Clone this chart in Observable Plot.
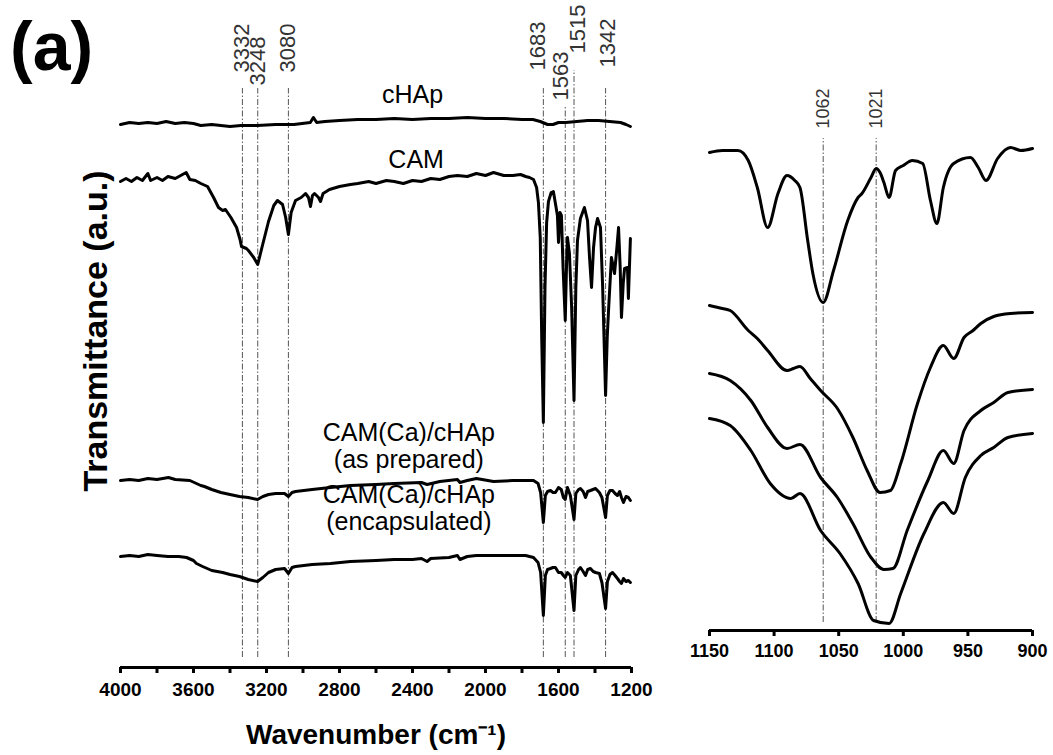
<!DOCTYPE html>
<html>
<head>
<meta charset="utf-8">
<script src="https://cdn.jsdelivr.net/npm/d3@7"></script>
<script src="https://cdn.jsdelivr.net/npm/@observablehq/plot@0.6"></script>
<style>
  html, body { margin: 0; padding: 0; background: #fff; }
  #fig { position: relative; width: 1053px; height: 755px; background: #fff; overflow: hidden;
         font-family: "Liberation Sans", Arial, sans-serif; }
  #left { position: absolute; left: 0; top: 0; }
  #right { position: absolute; left: 660px; top: 0; }
  #title { position: absolute; left: 10px; top: 12px; font-size: 68px; font-weight: bold; line-height: 1; }
  #ylab { position: absolute; left: 95px; top: 331px; font-size: 34px; font-weight: bold; line-height: 1;
          white-space: nowrap; transform: translate(-50%, -50%) rotate(-90deg); }
  svg [aria-label="x-axis tick label"] text { font-weight: bold; }
</style>
</head>
<body>
<div id="fig">
  <div id="left"></div>
  <div id="right"></div>
  <div id="title">(a)</div>
  <div id="ylab">Transmittance (a.u.)</div>
</div>
<script>
// ---------- DATA (wavenumber in cm-1, transmittance in stacked a.u.) ----------
// Left panel (4000–1200 cm-1)
const cHAp = [[4000,543],[3950,545],[3900,544],[3850,545],[3800,544],[3750,546],[3700,544],[3650,545],[3600,544],[3560,542],[3500,543],[3450,542],[3400,541],[3340,542],[3250,542],[3150,543],[3050,543],[2960,545],[2943,550],[2925,545],[2880,546],[2800,547],[2700,548],[2600,548],[2500,549],[2400,548],[2300,549],[2200,549],[2100,550],[2000,549],[1900,549],[1800,548],[1740,548],[1700,546],[1660,543],[1630,543],[1600,545],[1560,545],[1500,546],[1440,547],[1380,547],[1320,546],[1260,545],[1230,543],[1206,541]];

const CAM = [[4000,486],[3970,489],[3940,486],[3910,490],[3880,487],[3850,494],[3835,487],[3800,490],[3770,487],[3740,491],[3700,489],[3660,493],[3640,495],[3620,488],[3590,487],[3560,484],[3523,481],[3490,470],[3463,460],[3440,457],[3425,458],[3395,450],[3364,440],[3345,428],[3337,421],[3310,419],[3299,417],[3270,410],[3248,403],[3225,420],[3189,446],[3160,462],[3140,467],[3112,463],[3095,450],[3080,433],[3065,455],[3041,467],[3010,470],[2986,474],[2970,470],[2959,461],[2948,472],[2937,474],[2915,470],[2904,466],[2890,474],[2855,478],[2800,481],[2740,483],[2700,484],[2640,486],[2600,484],[2543,487],[2500,486],[2450,484],[2400,487],[2351,486],[2300,489],[2250,488],[2200,491],[2154,492],[2100,491],[2050,494],[2000,492],[1956,495],[1900,492],[1850,492],[1808,493],[1780,491],[1759,490],[1737,488],[1720,480],[1710,465],[1700,430],[1692,330],[1683,245],[1674,380],[1665,445],[1655,466],[1640,475],[1628,476],[1615,462],[1606,452],[1600,425],[1592,455],[1584,452],[1575,400],[1563,347],[1555,410],[1551,430],[1540,414],[1528,360],[1515,267],[1505,380],[1496,427],[1480,449],[1458,460],[1441,447],[1430,410],[1419,380],[1408,420],[1397,440],[1386,449],[1370,440],[1358,380],[1342,272],[1333,330],[1325,360],[1310,410],[1293,394],[1280,420],[1271,440],[1262,400],[1255,350],[1245,385],[1238,399],[1222,400],[1217,369],[1206,429]];

const asPrepared = [[4000,187],[3950,188],[3900,187],[3850,189],[3800,188],[3737,190],[3700,188],[3620,187],[3584,184],[3560,182],[3540,181],[3500,178],[3450,175],[3400,173],[3348,171],[3300,170],[3249,168],[3220,171],[3189,173],[3150,174],[3101,174],[3080,171],[3060,175],[3041,176],[2950,178],[2850,180],[2740,182],[2600,183],[2500,184],[2351,185],[2320,183],[2250,186],[2154,188],[2140,185],[2100,187],[2050,189],[1956,186],[1850,187],[1780,187],[1737,187],[1712,184],[1698,175],[1683,145],[1672,172],[1660,176],[1644,177],[1630,175],[1617,175],[1600,180],[1585,178],[1573,170],[1563,168],[1551,180],[1535,172],[1515,148],[1505,174],[1490,178],[1480,179],[1465,176],[1452,170],[1440,176],[1425,177],[1397,179],[1376,175],[1362,170],[1342,150],[1332,172],[1318,177],[1304,177],[1290,174],[1277,172],[1265,176],[1255,170],[1244,165],[1230,171],[1217,170],[1206,167]];

const encapsulated = [[4000,111],[3950,112],[3900,111],[3850,113],[3800,112],[3740,111],[3680,111],[3638,110],[3600,107],[3584,104],[3550,101],[3500,97],[3440,95],[3400,93],[3348,91],[3300,88],[3249,86],[3220,90],[3189,95],[3150,98],[3101,99],[3080,94],[3060,100],[3041,101],[2950,103],[2850,104],[2740,106],[2600,107],[2500,108],[2400,108],[2351,109],[2320,106],[2300,109],[2200,110],[2154,112],[2140,108],[2100,111],[2050,112],[1956,112],[1850,112],[1780,112],[1737,110],[1712,105],[1698,95],[1683,52],[1672,92],[1660,98],[1644,99],[1630,100],[1617,100],[1600,95],[1585,95],[1573,92],[1563,90],[1551,95],[1535,92],[1515,57],[1505,92],[1490,98],[1480,100],[1465,96],[1452,92],[1440,98],[1425,99],[1410,96],[1397,95],[1376,94],[1362,85],[1342,59],[1332,86],[1318,93],[1304,95],[1290,92],[1277,89],[1265,86],[1255,84],[1244,89],[1230,86],[1217,87],[1206,85]];

// Right panel (1150–900 cm-1)
const CAM_r = [[1150,478],[1140,480],[1128,480],[1120,470],[1113,443],[1105,403],[1097,437],[1090,455],[1084,450],[1080,443],[1074,390],[1070,357],[1062,328],[1054,360],[1043,410],[1035,433],[1032,437],[1025,453],[1021,462],[1018,458],[1015,448],[1011,433],[1006,460],[1000,465],[993,470],[985,467],[979,430],[974,407],[969,443],[961,467],[948,473],[942,463],[936,450],[927,472],[917,483],[909,480],[900,482]];
const asPrepared_r = [[1150,325],[1140,322],[1134,320],[1120,300],[1113,292],[1105,280],[1090,260],[1085,262],[1080,264],[1072,252],[1064,240],[1051,222],[1039,193],[1028,160],[1018,138],[1010,140],[1002,167],[989,227],[979,263],[969,285],[961,272],[953,293],[946,300],[940,307],[930,314],[917,317],[900,318]];
const encapsulated_r = [[1150,257],[1134,250],[1118,230],[1105,203],[1090,182],[1080,186],[1064,153],[1051,133],[1039,107],[1025,73],[1015,61],[1008,62],[997,100],[981,150],[969,180],[961,167],[953,200],[940,220],[930,228],[919,238],[900,241]];
const fourth_r = [[1150,212],[1134,205],[1118,180],[1103,147],[1087,132],[1080,137],[1064,100],[1049,77],[1035,47],[1023,10],[1011,7],[1002,37],[984,97],[969,128],[961,117],[952,153],[940,175],[930,183],[919,193],[900,197]];

// Peak markers
const peaksLeft = [3332, 3248, 3080, 1683, 1563, 1515, 1342];
const peaksLeftTop = [579, 579, 579, 579, 560, 597, 579];
const peaksLeftLabelW = [3335, 3248, 3082, 1715, 1586, 1491, 1329];
const peaksLeftLabelV = [595, 582, 595, 597, 567, 614, 600];
const peaksRight = [1062, 1021];

// Curve labels (multi-line labels are one text each)
const curveLabelText = ["cHAp", "CAM", "CAM(Ca)/cHAp\n(as prepared)", "CAM(Ca)/cHAp\n(encapsulated)"];
const curveLabelW = [2400, 2380, 2420, 2420];
const curveLabelV = [573, 508, 222, 160];

// Axis ticks
const leftTicks = d3.range(1200, 4001, 200);
const rightTicks = [1150, 1100, 1050, 1000, 950, 900];

// ---------- BUILD ----------
const rows = (name, arr) => arr.map(([w, v]) => ({series: name, w, v}));
const leftData = [...rows("cHAp", cHAp), ...rows("CAM", CAM), ...rows("prep", asPrepared), ...rows("enc", encapsulated)];
const rightData = [...rows("CAM", CAM_r), ...rows("prep", asPrepared_r), ...rows("enc", encapsulated_r), ...rows("4", fourth_r)];
const leftPeaks = peaksLeft.map((w, i) => ({w, top: peaksLeftTop[i], lw: peaksLeftLabelW[i], lv: peaksLeftLabelV[i], label: String(w)}));
const rightPeaks = peaksRight.map(w => ({w, label: String(w)}));
const curveLabels = curveLabelText.map((t, i) => ({t, w: curveLabelW[i], v: curveLabelV[i]}));

const font = "Liberation Sans, Arial, sans-serif";
const dash = "6,2,1.5,2";

const left = Plot.plot({
  width: 660, height: 755,
  marginLeft: 120, marginRight: 29, marginTop: 0, marginBottom: 88,
  style: {fontFamily: font, background: "transparent", color: "black", overflow: "visible"},
  x: {domain: [4000, 1200]},
  y: {domain: [0, 667], axis: null},
  marks: [
    Plot.ruleX(leftPeaks, {x: "w", y1: 10, y2: "top", stroke: "#555", strokeWidth: 1, strokeDasharray: dash}),
    Plot.text(leftPeaks, {x: "lw", y: "lv", text: "label", rotate: -90, textAnchor: "start", lineAnchor: "middle", fontSize: 22, fill: "#333"}),
    Plot.line(leftData, {x: "w", y: "v", z: "series", stroke: "black", strokeWidth: 3, strokeLinejoin: "round"}),
    Plot.text(curveLabels, {x: "w", y: "v", text: "t", fontSize: 25, lineHeight: 1.08, lineAnchor: "middle", fill: "black"}),
    Plot.ruleY([0], {stroke: "black", strokeWidth: 3}),
    Plot.axisX({ticks: leftTicks, tickFormat: d => d % 400 === 0 ? String(d) : "", tickSize: 6, strokeWidth: 3, tickPadding: 9, fontSize: 19, fontWeight: "bold", label: null}),
    Plot.text(["Wavenumber (cm\u207B\u00B9)"], {frameAnchor: "bottom", dy: 68, lineAnchor: "middle", fontSize: 28, fontWeight: "bold"})
  ]
});
document.getElementById("left").appendChild(left);

const right = Plot.plot({
  width: 393, height: 755,
  marginLeft: 49, marginRight: 21, marginTop: 0, marginBottom: 125,
  style: {fontFamily: font, background: "transparent", color: "black", overflow: "visible"},
  x: {domain: [1150, 900]},
  y: {domain: [0, 630], axis: null},
  marks: [
    Plot.ruleX(rightPeaks, {x: "w", y1: 8, y2: 492, stroke: "#555", strokeWidth: 1, strokeDasharray: dash}),
    Plot.text(rightPeaks, {x: "w", y: 502, text: "label", rotate: -90, textAnchor: "start", lineAnchor: "middle", fontSize: 18, fill: "#333"}),
    Plot.line(rightData, {x: "w", y: "v", z: "series", stroke: "black", strokeWidth: 3, curve: "monotone-x", strokeLinejoin: "round"}),
    Plot.ruleY([0], {stroke: "black", strokeWidth: 3}),
    Plot.axisX({ticks: rightTicks, tickFormat: d => String(d), tickSize: 6, strokeWidth: 3, tickPadding: 8, fontSize: 18, fontWeight: "bold", label: null})
  ]
});
document.getElementById("right").appendChild(right);
</script>
</body>
</html>
